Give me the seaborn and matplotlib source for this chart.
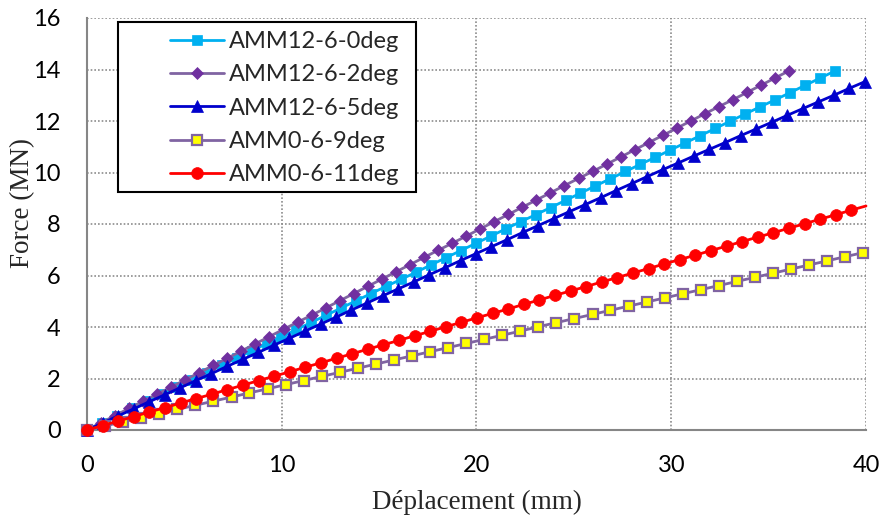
import matplotlib
matplotlib.use('Agg')
import matplotlib.pyplot as plt
import seaborn as sns
from matplotlib.patches import Rectangle
from matplotlib.ticker import MultipleLocator

series_labels = ['AMM12-6-0deg', 'AMM12-6-2deg', 'AMM12-6-5deg', 'AMM0-6-9deg', 'AMM0-6-11deg']

x_0deg = [0, 0.77, 1.54, 2.30, 3.07, 3.84, 4.61, 5.38, 6.14, 6.91, 7.68, 8.45, 9.22, 9.98, 10.75,
          11.52, 12.29, 13.06, 13.82, 14.59, 15.36, 16.13, 16.90, 17.66, 18.43, 19.20, 19.97, 20.74,
          21.50, 22.27, 23.04, 23.81, 24.58, 25.34, 26.11, 26.88, 27.65, 28.42, 29.18, 29.95, 30.72,
          31.49, 32.26, 33.02, 33.79, 34.56, 35.33, 36.10, 36.86, 37.63, 38.40]
y_0deg = [0, 0.28, 0.56, 0.84, 1.12, 1.39, 1.67, 1.95, 2.23, 2.51, 2.79, 3.07, 3.35, 3.62, 3.90,
          4.18, 4.46, 4.74, 5.02, 5.30, 5.58, 5.85, 6.13, 6.41, 6.69, 6.97, 7.25, 7.53, 7.81, 8.09,
          8.36, 8.64, 8.92, 9.20, 9.48, 9.76, 10.04, 10.32, 10.59, 10.87, 11.15, 11.43, 11.71, 11.99,
          12.27, 12.55, 12.82, 13.10, 13.38, 13.66, 13.94]

x_2deg = [0, 0.72, 1.44, 2.16, 2.88, 3.61, 4.33, 5.05, 5.77, 6.49, 7.21, 7.93, 8.65, 9.37, 10.09,
          10.82, 11.54, 12.26, 12.98, 13.70, 14.42, 15.14, 15.86, 16.58, 17.30, 18.03, 18.75, 19.47,
          20.19, 20.91, 21.63, 22.35, 23.07, 23.79, 24.51, 25.24, 25.96, 26.68, 27.40, 28.12, 28.84,
          29.56, 30.28, 31.00, 31.72, 32.45, 33.17, 33.89, 34.61, 35.33, 36.05]
y_2deg = [0, 0.28, 0.56, 0.84, 1.12, 1.40, 1.67, 1.95, 2.23, 2.51, 2.79, 3.07, 3.35, 3.63, 3.91,
          4.19, 4.46, 4.74, 5.02, 5.30, 5.58, 5.86, 6.14, 6.42, 6.70, 6.98, 7.25, 7.53, 7.81, 8.09,
          8.37, 8.65, 8.93, 9.21, 9.49, 9.77, 10.04, 10.32, 10.60, 10.88, 11.16, 11.44, 11.72, 12.00,
          12.28, 12.56, 12.83, 13.11, 13.39, 13.67, 13.95]

x_5deg = [0, 0.80, 1.60, 2.40, 3.20, 4.00, 4.79, 5.59, 6.39, 7.19, 7.99, 8.79, 9.59, 10.39, 11.19,
          11.99, 12.78, 13.58, 14.38, 15.18, 15.98, 16.78, 17.58, 18.38, 19.18, 19.98, 20.77, 21.57,
          22.37, 23.17, 23.97, 24.77, 25.57, 26.37, 27.17, 27.97, 28.76, 29.56, 30.36, 31.16, 31.96,
          32.76, 33.56, 34.36, 35.16, 35.96, 36.75, 37.55, 38.35, 39.15, 39.95]
y_5deg = [0, 0.27, 0.55, 0.82, 1.10, 1.37, 1.64, 1.92, 2.19, 2.47, 2.74, 3.01, 3.29, 3.56, 3.84,
          4.11, 4.38, 4.66, 4.93, 5.21, 5.48, 5.75, 6.03, 6.30, 6.58, 6.85, 7.12, 7.39, 7.67, 7.94,
          8.21, 8.48, 8.75, 9.02, 9.30, 9.57, 9.84, 10.11, 10.37, 10.64, 10.90, 11.16, 11.43, 11.69,
          11.95, 12.22, 12.48, 12.74, 13.00, 13.27, 13.53]

x_9deg = [0, 0.93, 1.85, 2.78, 3.71, 4.64, 5.56, 6.49, 7.42, 8.34, 9.27, 10.20, 11.12, 12.05, 12.98,
          13.91, 14.83, 15.76, 16.69, 17.61, 18.54, 19.47, 20.39, 21.32, 22.25, 23.18, 24.10, 25.03,
          25.96, 26.88, 27.81, 28.74, 29.66, 30.59, 31.52, 32.45, 33.37, 34.30, 35.23, 36.15, 37.08,
          38.01, 38.93, 39.86]
y_9deg = [0, 0.16, 0.32, 0.48, 0.64, 0.80, 0.96, 1.12, 1.28, 1.44, 1.60, 1.76, 1.92, 2.08, 2.24,
          2.40, 2.56, 2.72, 2.88, 3.04, 3.20, 3.36, 3.52, 3.68, 3.84, 4.01, 4.17, 4.33, 4.49, 4.65,
          4.81, 4.97, 5.13, 5.29, 5.45, 5.61, 5.77, 5.93, 6.09, 6.25, 6.41, 6.57, 6.73, 6.89]

x_11deg = [0, 0.80, 1.60, 2.40, 3.20, 4.01, 4.81, 5.61, 6.41, 7.21, 8.01, 8.81, 9.61, 10.41, 11.21,
           12.02, 12.82, 13.62, 14.42, 15.22, 16.02, 16.82, 17.62, 18.42, 19.22, 20.03, 20.83, 21.63,
           22.43, 23.23, 24.03, 24.83, 25.63, 26.43, 27.23, 28.04, 28.84, 29.64, 30.44, 31.24, 32.04,
           32.84, 33.64, 34.44, 35.24, 36.05, 36.85, 37.65, 38.45, 39.25, 40.00]
y_11deg = [0, 0.17, 0.35, 0.52, 0.70, 0.87, 1.05, 1.22, 1.39, 1.57, 1.74, 1.92, 2.09, 2.26, 2.44,
           2.61, 2.79, 2.96, 3.14, 3.31, 3.48, 3.66, 3.83, 4.01, 4.18, 4.36, 4.53, 4.70, 4.88, 5.05,
           5.23, 5.40, 5.57, 5.75, 5.92, 6.10, 6.27, 6.45, 6.62, 6.79, 6.97, 7.14, 7.32, 7.49, 7.66,
           7.84, 8.01, 8.19, 8.36, 8.54, 8.70]

sns.set_style('white')
plt.rcParams['font.family'] = ['Lato', 'DejaVu Sans']

W, H = 881, 517
fig = plt.figure(figsize=(W / 100, H / 100), dpi=100)
ax = fig.add_axes([87 / W, (H - 430) / H, 779 / W, 412 / H])

styles = [
    dict(color='#00B0F0', marker='s', markersize=7.5, markerfacecolor='#00B0F0',
         markeredgecolor='#00B0F0', markeredgewidth=0.5),
    dict(color='#8064A2', marker='D', markersize=6.5, markerfacecolor='#7030A0',
         markeredgecolor='#7030A0', markeredgewidth=0.5),
    dict(color='#0000CC', marker='^', markersize=9, markerfacecolor='#0000CC',
         markeredgecolor='#0000CC', markeredgewidth=0.5),
    dict(color='#8064A2', marker='s', markersize=6.5, markerfacecolor='#FFFF00',
         markeredgecolor='#8064A2', markeredgewidth=1.6),
    dict(color='#FF0000', marker='o', markersize=8.5, markerfacecolor='#FF0000',
         markeredgecolor='#FF0000', markeredgewidth=0.5, markevery=list(range(50))),
]
data = [(x_0deg, y_0deg), (x_2deg, y_2deg), (x_5deg, y_5deg), (x_9deg, y_9deg), (x_11deg, y_11deg)]

for (xs, ys), lab, st in zip(data, series_labels, styles):
    sns.lineplot(x=xs, y=ys, ax=ax, sort=False, estimator=None, linewidth=2.0,
                 label=lab, clip_on=False, zorder=3, **st)

ax.set_xlim(0, 40)
ax.set_ylim(0, 16)
ax.xaxis.set_major_locator(MultipleLocator(10))
ax.xaxis.set_minor_locator(MultipleLocator(2))
ax.yaxis.set_major_locator(MultipleLocator(2))
ax.yaxis.set_minor_locator(MultipleLocator(0.4))

ax.grid(True, which='major', color='#8C8C8C', linestyle=(0, (1, 1.2)), linewidth=1.2)
ax.set_axisbelow(True)
for side in ['top', 'right']:
    ax.spines[side].set_visible(False)
for side in ['left', 'bottom']:
    ax.spines[side].set_visible(True)
    ax.spines[side].set_color('#868686')
    ax.spines[side].set_linewidth(1.5)

ax.tick_params(which='both', direction='in', color='#868686', width=1.2, length=4.5,
               labelsize=17, labelcolor='black')
ax.tick_params(axis='y', which='major', pad=19)
ax.tick_params(axis='x', which='major', pad=18)
ax.tick_params(axis='both', which='minor', length=4.5)

ax.set_xlabel('Déplacement (mm)', family=['Liberation Serif'], fontsize=19.5, labelpad=10)
ax.set_ylabel('Force (MN)', family=['Liberation Serif'], fontsize=19.5)
ax.yaxis.set_label_coords((35 - 87) / 779, (430 - 203) / 412)

# legend box
rect = Rectangle((118 / W, 1 - 192 / H), 298 / W, 170 / H, transform=fig.transFigure,
                 facecolor='white', edgecolor='black', linewidth=1.5, zorder=5)
ax.add_patch(rect)
rect.set_clip_on(False)

handles, labels = ax.get_legend_handles_labels()
leg = ax.legend(handles, labels, loc='upper left', bbox_to_anchor=(170 / W, 1 - 31 / H),
                bbox_transform=fig.transFigure, frameon=False, borderpad=0, borderaxespad=0,
                handlelength=2.3, handletextpad=0.2, labelspacing=0.52, fontsize=17)
leg.set_zorder(6)

fig.savefig('out.png', dpi=100)
